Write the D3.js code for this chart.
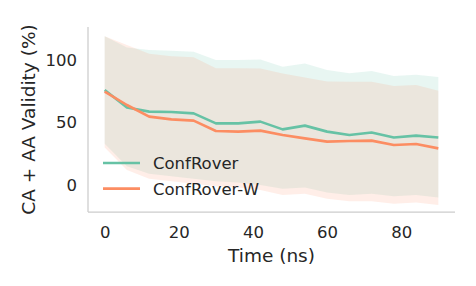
<!DOCTYPE html>
<html>
<head>
<meta charset="utf-8">
<script src="https://cdn.jsdelivr.net/npm/d3@7"></script>
<style>
  body { margin: 0; background: #fff; }
  text { font-family: "DejaVu Sans", sans-serif; fill: #262626; }
</style>
</head>
<body>
<div id="chart"></div>
<script>
var width = 476;
var height = 286;

// time points (ns)
var times = [0, 6, 12, 18, 24, 30, 36, 42, 48, 54, 60, 66, 72, 78, 84, 90];

var confRoverMean  = [76, 62, 58.7, 58.4, 57.3, 49.3, 49.3, 50.7, 44.5, 47.5, 42.7, 40, 42, 38, 39.5, 38];
var confRoverUpper = [119, 110, 108, 107.5, 106.7, 100, 100, 100.5, 94.7, 97.3, 92, 89.5, 91.2, 87.2, 88.3, 86.5];
var confRoverLower = [33, 15, 9, 7, 5, 3, 2, 0, -3, -2, -6, -8, -7, -9, -8, -10];

var confRoverWMean  = [74.7, 64, 54.7, 52.5, 51.5, 43.2, 42.7, 43.5, 40, 37.3, 34.7, 35.2, 35.5, 32, 32.8, 29.3];
var confRoverWUpper = [119, 112, 105, 103, 102.3, 93.5, 93.5, 93.3, 89.3, 86.1, 82.8, 82.7, 82.7, 79.2, 80, 75.5];
var confRoverWLower = [30, 12, 5, 3, 1, -1, -2, -4, -8, -7, -11, -13, -13, -15, -14, -16];

var seriesNames = ['ConfRover', 'ConfRover-W'];
var seriesColors = ['#66c2a5', '#fc8d62'];

var xTicks = [0, 20, 40, 60, 80];
var yTicks = [0, 50, 100];

var series = [
    {name: seriesNames[0], color: seriesColors[0], mean: confRoverMean, upper: confRoverUpper, lower: confRoverLower},
    {name: seriesNames[1], color: seriesColors[1], mean: confRoverWMean, upper: confRoverWUpper, lower: confRoverWLower},
];

var plot = {left: 88, right: 455, top: 27, bottom: 212};

var x = d3.scaleLinear().domain([-4.5, 94.5]).range([plot.left, plot.right]);
var y = d3.scaleLinear().domain([-21.6, 126.4]).range([plot.bottom, plot.top]);

var svg = d3.select('#chart')
    .append('svg')
    .attr('width', width)
    .attr('height', height);

function points(s, key) {
    return times.map(function (t, i) { return {t: t, v: s[key][i], lo: s.lower[i], hi: s.upper[i]}; });
}

var area = d3.area()
    .x(function (d) { return x(d.t); })
    .y0(function (d) { return y(d.lo); })
    .y1(function (d) { return y(d.hi); });

var line = d3.line()
    .x(function (d) { return x(d.t); })
    .y(function (d) { return y(d.v); });

// bands first, then the mean lines on top
series.forEach(function (s) {
    svg.append('path')
        .attr('d', area(points(s, 'mean')))
        .attr('fill', s.color)
        .attr('fill-opacity', 0.15)
        .attr('stroke', 'none');
});

series.forEach(function (s) {
    svg.append('path')
        .attr('d', line(points(s, 'mean')))
        .attr('fill', 'none')
        .attr('stroke', s.color)
        .attr('stroke-width', 2.6)
        .attr('stroke-linejoin', 'round');
});

// axes, ticks without marks (seaborn white style)
var xAxis = svg.append('g')
    .attr('transform', 'translate(0,' + plot.bottom + ')')
    .call(d3.axisBottom(x).tickValues(xTicks).tickSize(0).tickPadding(14));

var yAxis = svg.append('g')
    .attr('transform', 'translate(' + plot.left + ',0)')
    .call(d3.axisLeft(y).tickValues(yTicks).tickSize(0).tickPadding(11));

[xAxis, yAxis].forEach(function (g) {
    g.select('.domain').attr('stroke', '#cccccc').attr('stroke-width', 1.25);
    g.selectAll('text')
        .style('font-family', '"DejaVu Sans", sans-serif')
        .style('font-size', '16.5px')
        .attr('fill', '#262626');
});

yAxis.select('.domain').attr('d', 'M0,' + plot.bottom + 'V' + plot.top);
xAxis.select('.domain').attr('d', 'M' + plot.left + ',0H' + plot.right);

svg.append('text')
    .attr('x', (plot.left + plot.right) / 2)
    .attr('y', 262)
    .attr('text-anchor', 'middle')
    .style('font-size', '18.5px')
    .text('Time (ns)');

svg.append('text')
    .attr('transform', 'translate(35,' + (plot.top + plot.bottom) / 2 + ') rotate(-90)')
    .attr('text-anchor', 'middle')
    .style('font-size', '18.5px')
    .text('CA + AA Validity (%)');

// legend
var legend = svg.append('g').attr('transform', 'translate(103,163)');
series.forEach(function (s, i) {
    var row = legend.append('g').attr('transform', 'translate(0,' + (i * 25.6) + ')');
    row.append('line')
        .attr('x1', 0).attr('x2', 37)
        .attr('y1', 0).attr('y2', 0)
        .attr('stroke', s.color)
        .attr('stroke-width', 2.6);
    row.append('text')
        .attr('x', 50)
        .attr('y', 0)
        .attr('dy', '0.36em')
        .style('font-size', '16.5px')
        .text(s.name);
});
</script>
</body>
</html>
